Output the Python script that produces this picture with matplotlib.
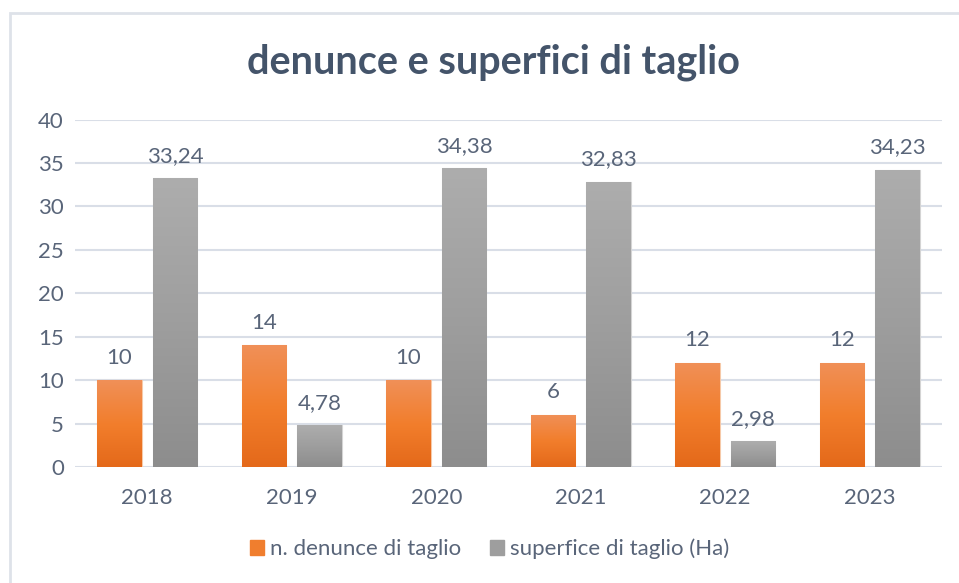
import matplotlib
matplotlib.use("Agg")
import matplotlib.pyplot as plt
import numpy as np
from matplotlib.patches import Rectangle, Patch
from matplotlib.colors import LinearSegmentedColormap

years = ["2018", "2019", "2020", "2021", "2022", "2023"]
denunce = [10, 14, 10, 6, 12, 12]
superfice = [33.24, 4.78, 34.38, 32.83, 2.98, 34.23]
series_names = ["n. denunce di taglio", "superfice di taglio (Ha)"]
title = "denunce e superfici di taglio"
yticks = [0, 5, 10, 15, 20, 25, 30, 35, 40]

plt.rcParams['font.family'] = ['Lato', 'DejaVu Sans']
text_col = "#596579"
title_col = "#44546A"
grid_col = "#D9DEE7"
fs = 16

fig = plt.figure(figsize=(9.59, 5.83), dpi=100)
ax = fig.add_axes([75/959, 1-467/583, (942-75)/959, (467-119.5)/583])

# chart frame
fig.patches.append(Rectangle((10/959, -0.05), 1.0, 1-13/583+0.05, transform=fig.transFigure,
                             fill=False, edgecolor="#DEE2E9", linewidth=2.0))

x = np.arange(len(years))
w = 0.307
off = 0.193

orange_cmap = LinearSegmentedColormap.from_list("o", ["#E4691A", "#F27E2C", "#F09058"])
gray_cmap = LinearSegmentedColormap.from_list("g", ["#8D8D8D", "#9E9E9E", "#ADADAD"])

b1 = ax.bar(x - off, denunce, w, color="#F07E2E", edgecolor="#F6C9A8", linewidth=0.8, zorder=2,
            label=series_names[0])
b2 = ax.bar(x + off, superfice, w, color="#9E9E9E", edgecolor="#D4D4D4", linewidth=0.8, zorder=2,
            label=series_names[1])

grad = np.linspace(0, 1, 256).reshape(-1, 1)
for bars, cmap in ((b1, orange_cmap), (b2, gray_cmap)):
    for r in bars:
        x0, y0 = r.get_x(), r.get_y()
        ww, hh = r.get_width(), r.get_height()
        im = ax.imshow(grad, cmap=cmap, origin="lower", aspect="auto",
                       extent=(x0, x0 + ww, y0, y0 + hh), zorder=2.5)
        im.set_clip_path(r)

for r, v in zip(b1, denunce):
    ax.annotate(f"{v}", (r.get_x() + r.get_width()/2, v), xytext=(0, 9),
                textcoords="offset points", ha="center", va="bottom",
                fontsize=fs, color=text_col)
for r, v in zip(b2, superfice):
    ax.annotate(f"{v:.2f}".replace(".", ","), (r.get_x() + r.get_width()/2, v), xytext=(0, 9),
                textcoords="offset points", ha="center", va="bottom",
                fontsize=fs, color=text_col)

ax.set_xlim(-0.5, len(years) - 0.5)
ax.set_ylim(0, 40)
ax.set_yticks(yticks)
ax.set_xticks(x)
ax.set_xticklabels(years)
ax.tick_params(axis="both", length=0, labelsize=fs, colors=text_col)
ax.tick_params(axis="y", pad=8)
ax.tick_params(axis="x", pad=15)
for s in ax.spines.values():
    s.set_visible(False)
ax.yaxis.grid(True, color=grid_col, linewidth=1.5, zorder=0)
ax.set_axisbelow(True)
ax.axhline(0, color=grid_col, linewidth=2, zorder=1)

fig.text(493/959, 1-62/583, title, ha="center", va="center", fontsize=28.5,
         fontweight="bold", color=title_col)

handles = [Patch(facecolor="#F07E2E", edgecolor="#F07E2E"),
           Patch(facecolor="#9E9E9E", edgecolor="#9E9E9E")]
fig.legend(handles, series_names, loc="center", bbox_to_anchor=(490/959, 1-549/583),
           ncol=2, frameon=False, fontsize=fs, labelcolor=text_col,
           handlelength=0.6, handleheight=0.6, handletextpad=0.3, columnspacing=1.3)

fig.savefig("out.png", dpi=100)
